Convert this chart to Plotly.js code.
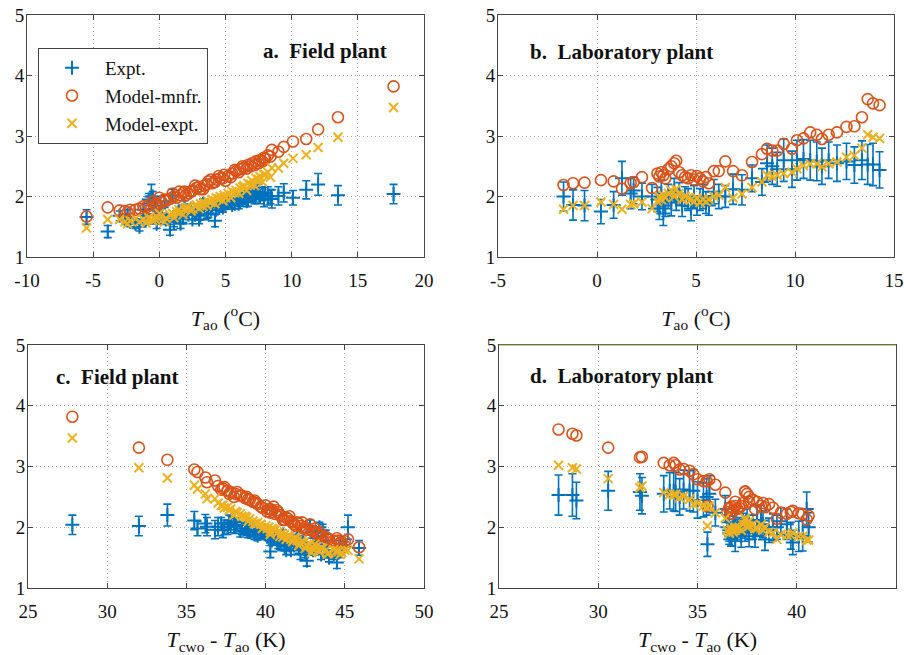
<!DOCTYPE html>
<html>
<head>
<meta charset="utf-8">
<script src="https://cdn.plot.ly/plotly-3.0.1.min.js"></script>
<style>
  html, body { margin: 0; padding: 0; background: #ffffff; }
  #chart { width: 904px; height: 655px; }
</style>
</head>
<body>
<div id="chart"></div>
<script>
// ---- Field plant: outdoor air temperature, approach (Tcwo - Tao), COP values ----
const fieldTao = [-5.5, -3.9, -3.0, -2.6, -2.2, -1.8, -1.5, -1.2, -0.8, -0.5, -0.2, 0.2, 0.5, 0.8, 1.0, 1.3, 1.6, 1.9, 2.2, 2.5,
  2.8, 3.1, 3.4, 3.7, 4.0, 4.3, 4.6, 4.9, 5.2, 5.5, 5.8, 6.1, 6.4, 6.7, 7.0, 7.3, 7.6, 7.9, 8.2, 8.5,
  9.0, 9.4, 10.1, 11.1, 12.0, 13.5, 17.7,
  -2.4, -1.0, -0.3, 0.4, 1.1, 1.8, 2.4, 3.0, 3.6, 4.2, 4.8, 5.4, 6.0, 6.6, 7.2, 7.8, 8.4, 5.0, 3.3, 2.0, 6.9, 7.5, 8.0, -0.6,
  0.0, 1.5, 2.7, 3.9, 4.5, 5.7, 6.3];
const fieldDT = [45.9, 44.5, 45.0, 44.8, 44.6, 44.3, 44.0, 43.8, 43.6, 43.4, 43.5, 43.2, 43.0, 42.6, 42.8, 42.4, 42.2, 42.0, 41.8, 41.6,
  41.4, 41.2, 41.0, 40.8, 40.6, 40.4, 40.2, 40.0, 39.7, 39.5, 39.2, 39.0, 38.7, 38.4, 38.1, 37.8, 37.6, 37.3, 37.0, 36.8,
  36.3, 36.2, 35.7, 35.5, 33.8, 32.0, 27.8,
  44.7, 43.9, 43.3, 42.9, 42.5, 42.1, 41.7, 41.3, 40.9, 40.3, 40.3, 39.8, 39.4, 38.9, 38.5, 38.2, 37.4, 40.1, 41.1, 41.9, 38.0, 37.7, 37.2, 45.2,
  43.1, 42.3, 41.5, 40.7, 40.5, 39.3, 38.8];
const fieldExpt = [1.66, 1.42, 1.68, 1.62, 1.58, 1.55, 1.50, 1.78, 1.95, 2.00, 1.55, 1.72, 1.62, 1.45, 2.02, 1.68, 1.55, 1.85, 1.70, 1.62,
  1.75, 1.68, 1.80, 1.72, 1.85, 1.78, 1.85, 1.88, 1.90, 1.86, 1.95, 1.92, 1.98, 1.94, 2.02, 2.05, 2.00, 1.95, 2.01, 1.96,
  2.01, 2.06, 1.98, 2.11, 2.20, 2.02, 2.04,
  1.70, 1.62, 1.85, 1.92, 1.58, 1.65, 1.80, 1.62, 1.72, 1.60, 1.82, 1.90, 1.88, 1.92, 1.98, 2.04, 2.00, 1.85, 1.88, 1.78, 2.10, 2.08, 2.06, 2.00,
  1.68, 1.75, 1.70, 1.78, 1.82, 1.88, 1.96];
const fieldExptErr = [0.12, 0.10, 0.08, 0.08, 0.08, 0.08, 0.07, 0.10, 0.10, 0.08, 0.08, 0.08, 0.08, 0.09, 0.10, 0.08, 0.08, 0.08, 0.08, 0.07,
  0.08, 0.07, 0.08, 0.07, 0.08, 0.07, 0.06, 0.07, 0.07, 0.07, 0.07, 0.08, 0.08, 0.10, 0.12, 0.14, 0.12, 0.12, 0.15, 0.15,
  0.15, 0.15, 0.12, 0.15, 0.18, 0.16, 0.16,
  0.08, 0.08, 0.09, 0.10, 0.08, 0.08, 0.08, 0.07, 0.08, 0.10, 0.08, 0.08, 0.08, 0.09, 0.10, 0.11, 0.12, 0.06, 0.08, 0.08, 0.14, 0.12, 0.10, 0.20,
  0.08, 0.08, 0.07, 0.07, 0.07, 0.08, 0.09];
const fieldMnfr = [1.67, 1.82, 1.77, 1.76, 1.78, 1.78, 1.80, 1.84, 1.86, 1.92, 1.86, 1.90, 1.93, 1.96, 2.05, 1.98, 2.02, 2.08, 2.05, 2.10,
  2.14, 2.12, 2.18, 2.25, 2.22, 2.28, 2.30, 2.36, 2.34, 2.38, 2.42, 2.45, 2.48, 2.52, 2.55, 2.58, 2.60, 2.64, 2.68, 2.77,
  2.74, 2.82, 2.91, 2.95, 3.11, 3.31, 3.82,
  1.74, 1.82, 1.88, 1.95, 2.00, 2.06, 2.08, 2.16, 2.20, 2.24, 2.30, 2.32, 2.40, 2.46, 2.52, 2.58, 2.66, 2.26, 2.12, 2.02, 2.50, 2.55, 2.62, 1.80,
  1.98, 2.08, 2.18, 2.28, 2.34, 2.44, 2.50];
const fieldMexpt = [1.48, 1.62, 1.62, 1.58, 1.60, 1.63, 1.58, 1.62, 1.65, 1.60, 1.66, 1.68, 1.64, 1.70, 1.72, 1.75, 1.74, 1.78, 1.82, 1.80,
  1.86, 1.88, 1.90, 1.92, 1.95, 1.98, 2.00, 2.02, 2.05, 2.08, 2.10, 2.14, 2.18, 2.22, 2.26, 2.30, 2.33, 2.36, 2.40, 2.47,
  2.47, 2.55, 2.63, 2.69, 2.81, 2.98, 3.47,
  1.55, 1.56, 1.62, 1.58, 1.65, 1.70, 1.76, 1.80, 1.85, 1.88, 1.93, 1.98, 2.05, 2.10, 2.18, 2.24, 2.32, 1.98, 1.84, 1.82, 2.20, 2.28, 2.36, 1.62,
  1.72, 1.78, 1.84, 1.90, 1.96, 2.06, 2.16];

// ---- Laboratory plant ----
const labTao = [-1.69, -1.21, -0.63, 0.20, 0.84, 1.26, 1.70, 1.85, 2.27, 2.78,
  3.05, 3.15, 3.25, 3.35, 3.45, 3.60, 3.75, 3.90, 4.00, 4.15, 4.30, 4.45, 4.60, 4.75, 4.90, 5.05, 5.20, 5.35, 5.50, 5.65,
  5.90, 6.15, 6.48, 6.87, 7.32, 7.83, 8.33, 8.59, 8.85, 9.10, 9.43, 9.85, 10.10, 10.43, 10.77, 11.10, 11.36, 11.70, 12.12,
  12.60, 13.00, 13.38, 13.67, 13.94, 14.27];
const labDT = [40.6, 40.3, 40.1, 39.8, 39.7, 40.5, 39.5, 39.2, 38.8, 39.0,
  38.6, 38.4, 38.3, 35.5, 37.9, 37.8, 37.6, 37.5, 37.4, 37.3, 37.2, 37.1, 37.0, 36.9, 36.8, 36.7, 36.6, 36.5, 36.6, 36.7,
  36.9, 37.6, 37.4, 38.0, 38.2, 36.4, 35.9, 35.6, 35.46, 35.3, 34.79, 35.0, 34.6, 34.3, 33.8, 33.9, 34.1, 33.6, 33.3,
  32.1, 32.2, 30.5, 28.0, 28.7, 28.9];
const labExpt = [2.00, 1.86, 1.85, 1.75, 1.86, 2.30, 2.05, 2.10, 2.00, 2.00,
  1.95, 1.80, 2.05, 1.72, 1.85, 2.00, 1.90, 2.10, 1.95, 2.05, 1.85, 2.00, 1.95, 1.80, 2.00, 1.85, 1.95, 2.00, 1.90, 1.85,
  2.08, 2.00, 2.00, 2.12, 2.11, 2.30, 2.24, 2.55, 2.50, 2.45, 2.60, 2.45, 2.60, 2.62, 2.60, 2.58, 2.50, 2.60, 2.55,
  2.58, 2.52, 2.60, 2.53, 2.53, 2.44];
const labExptErr = [0.24, 0.25, 0.25, 0.20, 0.22, 0.28, 0.25, 0.22, 0.22, 0.20,
  0.20, 0.18, 0.22, 0.20, 0.18, 0.20, 0.22, 0.20, 0.18, 0.18, 0.18, 0.16, 0.18, 0.20, 0.18, 0.16, 0.18, 0.20, 0.18, 0.16,
  0.20, 0.20, 0.18, 0.25, 0.25, 0.22, 0.22, 0.30, 0.30, 0.28, 0.35, 0.30, 0.33, 0.32, 0.33, 0.32, 0.30, 0.30, 0.30,
  0.30, 0.30, 0.32, 0.33, 0.35, 0.30];
const labMnfr = [2.19, 2.22, 2.23, 2.27, 2.25, 2.13, 2.22, 2.24, 2.32, 2.14,
  2.38, 2.33, 2.40, 2.35, 2.30, 2.45, 2.50, 2.55, 2.59, 2.40, 2.35, 2.32, 2.30, 2.35, 2.28, 2.34, 2.30, 2.25, 2.32, 2.22,
  2.42, 2.42, 2.58, 2.42, 2.35, 2.57, 2.70, 2.79, 2.76, 2.76, 2.87, 2.79, 2.93, 2.96, 3.06, 3.02, 2.95, 3.02, 3.06,
  3.15, 3.16, 3.31, 3.61, 3.54, 3.51];
const labMexpt = [1.79, 1.85, 1.85, 1.91, 1.87, 1.79, 1.87, 1.88, 1.91, 1.80,
  1.92, 2.00, 1.95, 2.02, 1.98, 2.05, 2.10, 2.00, 2.12, 2.05, 1.95, 2.00, 1.98, 1.95, 1.92, 1.98, 1.90, 1.95, 1.92, 1.95,
  2.00, 2.02, 2.15, 1.98, 2.04, 2.15, 2.24, 2.35, 2.33, 2.35, 2.38, 2.40, 2.46, 2.51, 2.54, 2.54, 2.49, 2.54, 2.57,
  2.65, 2.68, 2.80, 3.02, 2.98, 2.96];

// ---- Axis ticks and labels ----
const yTicks = [1, 2, 3, 4, 5];
const yTickText = ['1', '2', '3', '4', '5'];
const xTicksA = [-10, -5, 0, 5, 10, 15, 20];
const xTickTextA = ['-10', '-5', '0', '5', '10', '15', '20'];
const xTicksB = [-5, 0, 5, 10, 15];
const xTickTextB = ['-5', '0', '5', '10', '15'];
const xTicksC = [25, 30, 35, 40, 45, 50];
const xTickTextC = ['25', '30', '35', '40', '45', '50'];
const xTicksD = [25, 30, 35, 40, 45];
const xTickTextD = ['25', '30', '35', '40', '45'];

const seriesNames = ['Expt.', 'Model-mnfr.', 'Model-expt.'];
const panelTitles = ['a.\u00a0\u00a0Field plant', 'b.\u00a0\u00a0Laboratory plant', 'c.\u00a0\u00a0Field plant', 'd.\u00a0\u00a0Laboratory plant'];
const taoTitle = '<i>T</i><sub>ao</sub> (<sup>o</sup>C)';
const dtTitle = '<i>T</i><sub>cwo</sub> - <i>T</i><sub>ao</sub> (K)';

const BLUE = '#0072BD', ORANGE = '#D95319', YELLOW = '#EDB120';
const SERIF = 'Liberation Serif, Times New Roman, serif';
const FRAME = '#444444';

function panelTraces(x, expt, err, mnfr, mexpt, xa, ya, legend) {
  return [
    { type: 'scatter', mode: 'markers', name: seriesNames[0], x: x, y: expt, xaxis: xa, yaxis: ya,
      showlegend: legend,
      marker: { symbol: 'cross-thin-open', size: 10, color: BLUE, line: { color: BLUE, width: 2 } },
      error_y: { type: 'data', array: err, visible: true, color: BLUE, thickness: 1.6, width: 4 } },
    { type: 'scatter', mode: 'markers', name: seriesNames[1], x: x, y: mnfr, xaxis: xa, yaxis: ya,
      showlegend: legend,
      marker: { symbol: 'circle-open', size: 11, color: ORANGE, line: { color: ORANGE, width: 1.6 } } },
    { type: 'scatter', mode: 'markers', name: seriesNames[2], x: x, y: mexpt, xaxis: xa, yaxis: ya,
      showlegend: legend,
      marker: { symbol: 'x-thin-open', size: 9, color: YELLOW, line: { color: YELLOW, width: 2 } } }
  ];
}

const data = [].concat(
  panelTraces(fieldTao, fieldExpt, fieldExptErr, fieldMnfr, fieldMexpt, 'x', 'y', true),
  panelTraces(labTao, labExpt, labExptErr, labMnfr, labMexpt, 'x2', 'y2', false),
  panelTraces(fieldDT, fieldExpt, fieldExptErr, fieldMnfr, fieldMexpt, 'x3', 'y3', false),
  panelTraces(labDT, labExpt, labExptErr, labMnfr, labMexpt, 'x4', 'y4', false)
);

const W = 904, H = 655;
function xd(a, b) { return [a / W, b / W]; }
function yd(top, bottom) { return [1 - bottom / H, 1 - top / H]; }

const GRID = { showgrid: true, gridcolor: '#a8a8a8', griddash: '1px,3px', gridwidth: 1, zeroline: false };

function xAxis(domain, anchor, range, vals, text, title, standoff) {
  return Object.assign({
    domain: domain, anchor: anchor, range: range, tickvals: vals, ticktext: text,
    showline: true, mirror: 'ticks', linecolor: FRAME, linewidth: 1,
    ticks: 'inside', ticklen: 5, tickcolor: FRAME, tickwidth: 1, ticklabelstandoff: 6,
    tickfont: { family: SERIF, size: 19, color: '#111' },
    title: { text: title, font: { family: SERIF, size: 22, color: '#111' }, standoff: standoff }
  }, GRID);
}
function yAxis(domain, anchor) {
  return Object.assign({
    domain: domain, anchor: anchor, range: [1, 5], tickvals: yTicks, ticktext: yTickText,
    showline: true, mirror: 'ticks', linecolor: FRAME, linewidth: 1,
    ticks: 'inside', ticklen: 5, tickcolor: FRAME, tickwidth: 1, ticklabelstandoff: -2,
    tickfont: { family: SERIF, size: 19, color: '#111' }
  }, GRID);
}

function panelLabel(text, xPix, yPix) {
  return { text: '<b>' + text + '</b>', xref: 'paper', yref: 'paper',
    x: xPix / W, y: 1 - yPix / H, xanchor: 'left', yanchor: 'middle', showarrow: false,
    font: { family: SERIF, size: 21, color: '#111' } };
}

const layout = {
  width: W, height: H,
  margin: { l: 0, r: 0, t: 0, b: 0 },
  paper_bgcolor: '#ffffff', plot_bgcolor: '#ffffff',
  font: { family: SERIF, color: '#111' },
  xaxis: xAxis(xd(27, 424), 'y', [-10, 20], xTicksA, xTickTextA, taoTitle, 20),
  yaxis: yAxis(yd(15, 257), 'x'),
  xaxis2: xAxis(xd(498, 894), 'y2', [-5, 15], xTicksB, xTickTextB, taoTitle, 20),
  yaxis2: yAxis(yd(15, 257), 'x2'),
  xaxis3: xAxis(xd(28, 424), 'y3', [25, 50], xTicksC, xTickTextC, dtTitle, 13),
  yaxis3: yAxis(yd(345, 588), 'x3'),
  xaxis4: xAxis(xd(499, 896), 'y4', [25, 45], xTicksD, xTickTextD, dtTitle, 13),
  yaxis4: yAxis(yd(345, 588), 'x4'),
  showlegend: true,
  legend: {
    x: 38 / W, y: 1 - 48 / H, xanchor: 'left', yanchor: 'top',
    bgcolor: '#ffffff', bordercolor: FRAME, borderwidth: 1,
    font: { family: SERIF, size: 19, color: '#111' },
    itemwidth: 56, entrywidth: 186, entrywidthmode: 'pixels'
  },
  annotations: [
    panelLabel(panelTitles[0], 261, 51),
    panelLabel(panelTitles[1], 528, 52),
    panelLabel(panelTitles[2], 54, 377),
    panelLabel(panelTitles[3], 528, 376)
  ],
  shapes: [
    // olive top edge of the lower-right frame
    { type: 'line', xref: 'paper', yref: 'paper', x0: 499 / W, x1: 896 / W, y0: 1 - 345 / H, y1: 1 - 345 / H,
      line: { color: '#8f9a3c', width: 1.2 } }
  ]
};

Plotly.newPlot('chart', data, layout, { staticPlot: true, displayModeBar: false });
</script>
</body>
</html>
